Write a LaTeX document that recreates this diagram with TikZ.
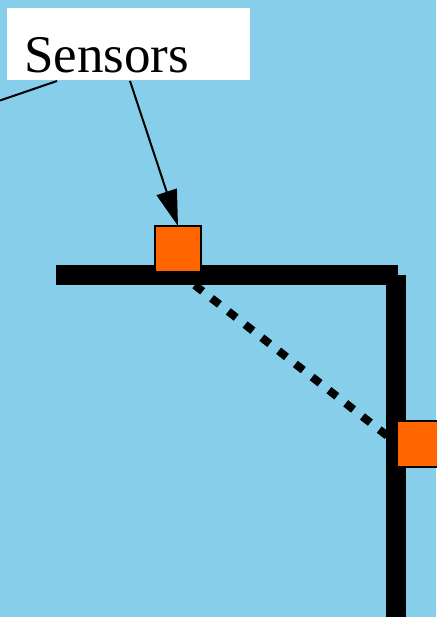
\documentclass[tikz,border=0pt]{standalone}
\usepackage{fontspec}
\setmainfont{Liberation Serif}
\usetikzlibrary{arrows.meta}
\definecolor{skyc}{HTML}{87CEEB}
\definecolor{sensorc}{HTML}{FF6600}
\tikzset{
  sensor/.style={draw=black, line width=2pt, fill=sensorc, minimum width=46pt, minimum height=46pt, inner sep=0pt, outer sep=0pt},
  bar/.style={fill=black},
  labelbox/.style={fill=white, draw=none, minimum width=243pt, minimum height=72pt, inner sep=0pt, outer sep=0pt, anchor=north west},
  conn/.style={draw=black, line width=2pt},
  dotline/.style={draw=black, line width=8pt, dash pattern=on 10pt off 11.3pt},
}
\begin{document}
\begin{tikzpicture}[x=1pt,y=-1pt]
\useasboundingbox (0,0) rectangle (436,617);
\fill[skyc] (0,0) rectangle (436,617);
% sensors (positions)
\coordinate (s1c) at (178,249);
\coordinate (s2c) at (420,443.5);
% dotted link behind everything
\draw[dotline] (178,272) -- (397,443.5);
% bars
\fill[bar] (56,265) rectangle (398,285);
\fill[bar] (386,275) rectangle (406,617);
% sensor squares
\node[sensor] (sensor1) at (s1c) {};
\node[sensor] (sensor2) at (s2c) {};
% label
\node[labelbox] (label) at (7,8) {};
\node[anchor=base west, font=\fontsize{53}{60}\selectfont, inner sep=0pt] (labeltext) at (24,73) {Sensors};
\coordinate (lfree) at (0,100.5);
\coordinate (lstart) at (57,81);
\coordinate (astart) at (130,81);
\draw[conn] (lstart) -- (lfree);
\draw[conn, -{Triangle[length=36pt,width=21pt]}] (astart) -- (sensor1.north);
\end{tikzpicture}
\end{document}
